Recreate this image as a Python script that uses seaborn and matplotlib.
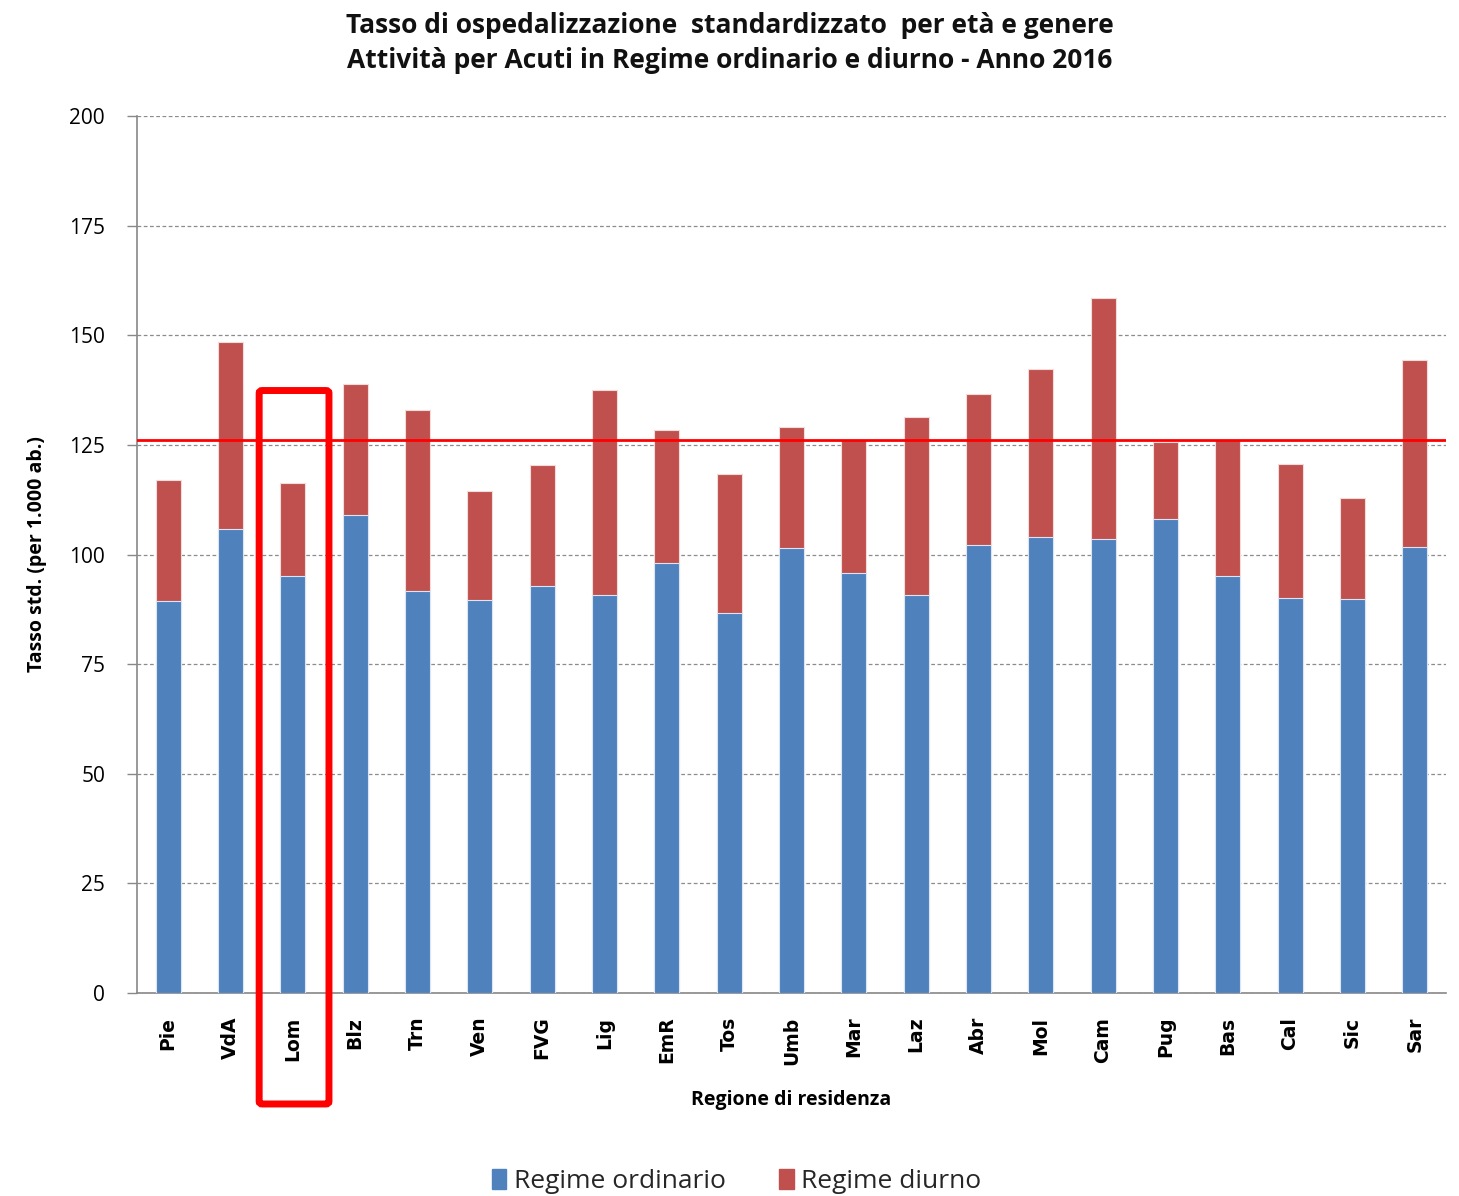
import numpy as np
import pandas as pd
import matplotlib
matplotlib.use("Agg")
import matplotlib.pyplot as plt
import seaborn as sns
from matplotlib.patches import FancyBboxPatch, Patch

regioni = ["Pie", "VdA", "Lom", "Blz", "Trn", "Ven", "FVG", "Lig", "EmR", "Tos",
           "Umb", "Mar", "Laz", "Abr", "Mol", "Cam", "Pug", "Bas", "Cal", "Sic", "Sar"]
ordinario = [89.4, 105.9, 95.1, 108.9, 91.7, 89.7, 92.8, 90.8, 98.1, 86.7,
             101.5, 95.7, 90.8, 102.1, 103.9, 103.5, 108.2, 95.1, 90.1, 89.8, 101.8]
diurno = [27.6, 42.6, 21.2, 30.1, 41.3, 24.9, 27.6, 46.7, 30.2, 31.6,
          27.5, 30.5, 40.6, 34.6, 38.5, 55.0, 17.5, 31.1, 30.5, 23.1, 42.6]
media_italia = 126.1
y_ticks = [0, 25, 50, 75, 100, 125, 150, 175, 200]

BLUE = "#4F81BD"
RED = "#C0504D"

df = pd.DataFrame({"regione": regioni, "ordinario": ordinario, "diurno": diurno})
df["totale"] = df["ordinario"] + df["diurno"]

sns.set_theme(style="white")
plt.rcParams["font.family"] = ["Liberation Sans Narrow", "Open Sans", "DejaVu Sans"]

fig = plt.figure(figsize=(14.59, 11.96), dpi=100)
ax = fig.add_axes([0.0939, 0.1697, 0.8971, 0.7333])

# stacked bars: total (diurno on top) drawn first, ordinario drawn over it
sns.barplot(data=df, x="regione", y="totale", color=RED, width=0.4,
            saturation=1, edgecolor="#F2DCDB", linewidth=0.8, ax=ax, zorder=3)
sns.barplot(data=df, x="regione", y="ordinario", color=BLUE, width=0.4,
            saturation=1, edgecolor="#DCE6F2", linewidth=0.8, ax=ax, zorder=4)

ax.axhline(media_italia, color="#FF0000", lw=2, zorder=5)

ax.set_ylim(0, 200)
ax.set_xlim(-0.5, len(regioni) - 0.5)
ax.set_yticks(y_ticks)
ax.set_yticklabels([str(v) for v in y_ticks], fontsize=15, color="black",
                   family=["Open Sans", "DejaVu Sans"])
ax.yaxis.grid(True, color="#8C8C8C", linestyle=(0, (3, 2)), lw=0.9)
ax.set_axisbelow(True)

ax.set_xticks(range(len(regioni)))
ax.set_xticklabels(regioni, rotation=90, fontsize=13.5, fontweight="bold",
                   family=["DejaVu Sans"], color="black")
ax.tick_params(axis="x", which="major", length=0, pad=17)
ax.set_xticks(np.arange(-0.5, len(regioni), 1), minor=True)
ax.tick_params(axis="x", which="minor", length=7, color="#888888", width=1)
ax.tick_params(axis="y", length=7, color="#888888", width=1, left=True, pad=16)

for s in ["top", "right"]:
    ax.spines[s].set_visible(False)
for s in ["left", "bottom"]:
    ax.spines[s].set_color("#888888")
    ax.spines[s].set_linewidth(1.2)

ax.set_ylabel("Tasso std. (per 1.000 ab.)", fontsize=14, fontweight="bold",
              labelpad=16, color="black")
ax.set_xlabel("Regione di residenza", fontsize=14, fontweight="bold",
              labelpad=18, color="black")

fig.text(0.5, 0.979, "Tasso di ospedalizzazione  standardizzato  per età e genere",
         ha="center", va="center", fontsize=19, fontweight="bold", color="#111111")
fig.text(0.5, 0.949, "Attività per Acuti in Regime ordinario e diurno - Anno 2016",
         ha="center", va="center", fontsize=19, fontweight="bold", color="#111111")

# highlight box around Lombardia
box = FancyBboxPatch((2 - 0.54, -25.3), 1.12, 137.4 + 25.3,
                     boxstyle="round,pad=0,rounding_size=0.05",
                     transform=ax.transData, fill=False, ec="#FF0000", lw=5,
                     clip_on=False, zorder=10, mutation_aspect=12)
ax.add_patch(box)

handles = [Patch(color=BLUE, label="Regime ordinario"),
           Patch(color=RED, label="Regime diurno")]
fig.legend(handles=handles, loc="center", bbox_to_anchor=(0.505, 0.012), ncol=2,
           frameon=False, fontsize=19, handlelength=0.55, handleheight=0.8,
           handletextpad=0.3, columnspacing=2.0)

fig.savefig("out.png", dpi=100)
